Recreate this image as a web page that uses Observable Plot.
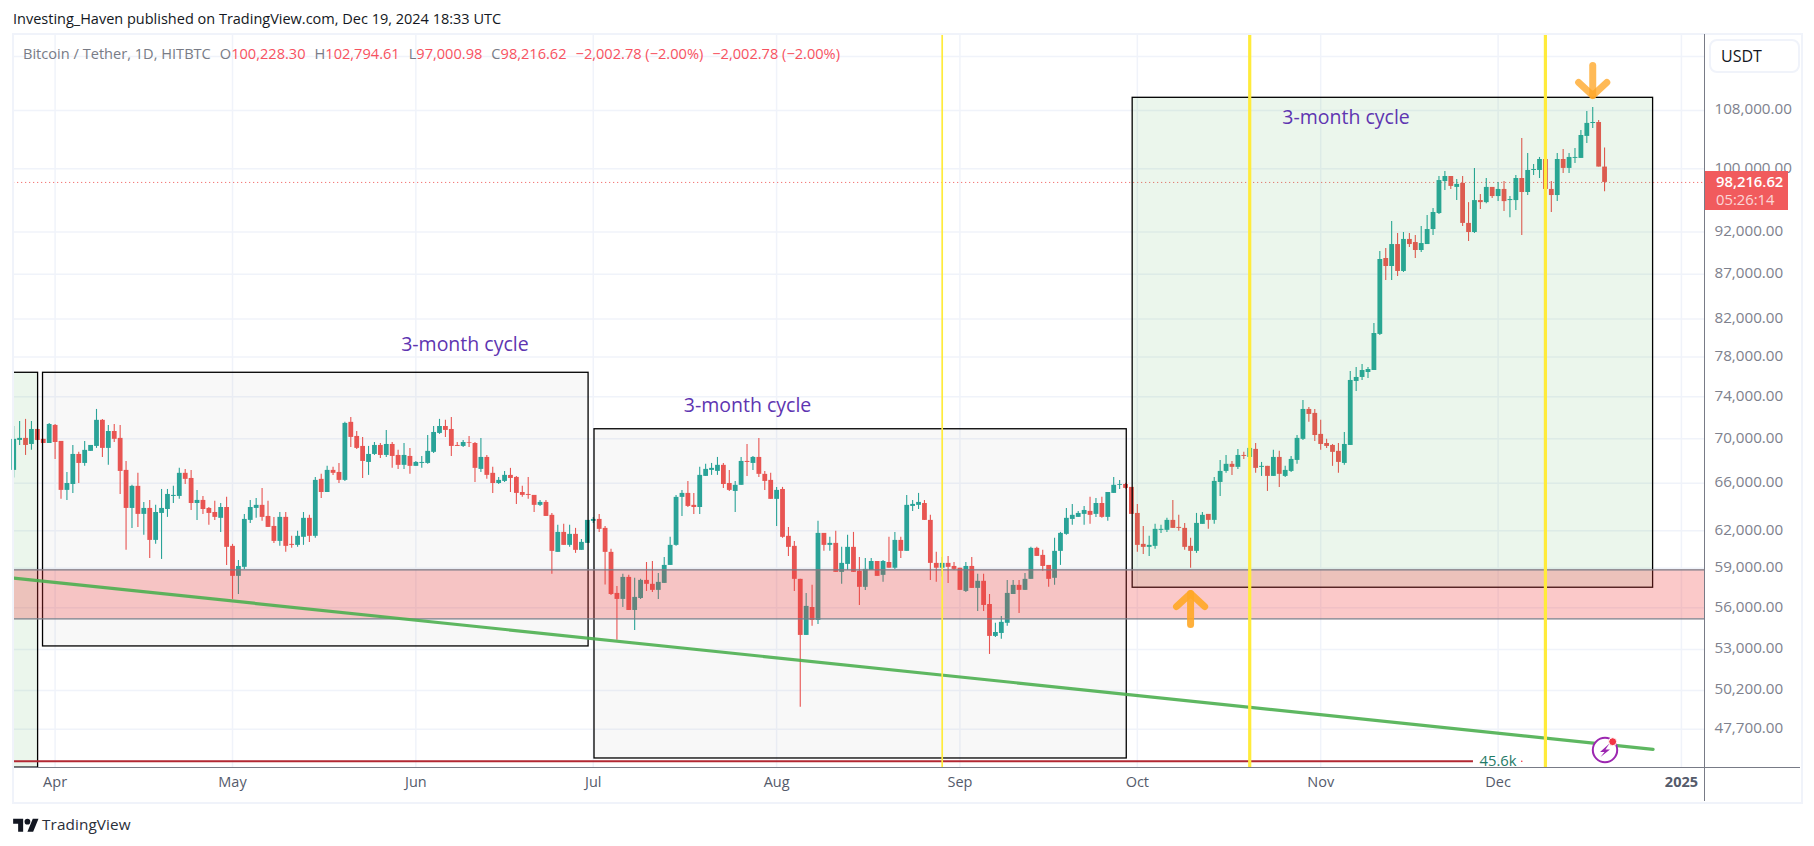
<!DOCTYPE html>
<html>
<head>
<meta charset="utf-8">
<script src="https://cdn.jsdelivr.net/npm/d3@7"></script>
<script src="https://cdn.jsdelivr.net/npm/@observablehq/plot@0.6"></script>
<style>
html,body{margin:0;padding:0;background:#fff;}
#wrap{position:relative;width:1814px;height:846px;overflow:hidden;font-family:"Open Sans",sans-serif;}
#chart svg{display:block;}
.ov{position:absolute;white-space:nowrap;}
.g{color:#787b86}.r{color:#f7525f}
</style>
</head>
<body>
<div id="wrap">
  <div id="chart"></div>
  <div class="ov" style="left:12px;top:33px;width:1787px;height:767px;border:2px solid #f0f3fa;box-sizing:content-box"></div>
  <div class="ov" style="left:1704px;top:34px;width:1px;height:767px;background:#787b86"></div>
  <div class="ov" style="left:14px;top:767px;width:1786px;height:1px;background:#787b86"></div>
  <div class="ov" style="left:13px;top:9px;font-size:14.5px;color:#131722">Investing_Haven published on TradingView.com, Dec 19, 2024 18:33 UTC</div>
  <div class="ov" id="legend" style="left:23px;top:43px;font-size:14.6px;color:#787b86"></div>
  <div class="ov" style="left:1709px;top:39px;width:87px;height:30px;border:2px solid #f0f3fa;border-radius:8px;background:#fff;font-size:16px;line-height:30px;color:#131722;font-weight:500"><span style="margin-left:10px">USDT</span></div>
  <div class="ov" style="left:1705px;top:171px;width:83px;height:39px;background:#f15b5d;color:#fff;font-size:14.8px;line-height:18.3px;padding:1px 0 0 11px;box-sizing:border-box"><div style="font-weight:600">98,216.62</div><div style="opacity:.75">05:26:14</div></div>
  <svg class="ov" style="left:1590px;top:735px" width="32" height="32" viewBox="0 0 32 32">
    <circle cx="15" cy="15" r="12.2" fill="#fff" stroke="#9c27b0" stroke-width="2"/>
    <path d="M19.5 8.5 L10 17 L14.5 17 L10.5 22 L20 14.5 L15.5 14.5 Z" fill="#9c27b0"/>
    <circle cx="22.7" cy="6.7" r="4" fill="#f23645" stroke="#fff" stroke-width="1"/>
  </svg>
  <svg class="ov" style="left:13px;top:816px" width="26" height="20" viewBox="0 0 36 28"><path d="M14 22H7V11H0V4h14v18zM28 22h-8l7.5-18h8L28 22z" fill="#131722"/><circle cx="20" cy="8" r="4" fill="#131722"/></svg>
  <div class="ov" style="left:42px;top:814px;font-size:15.3px;color:#2a2e39;letter-spacing:.1px">TradingView</div>
</div>
<script>
// Daily candles: [open, high, low, close]
const mar = [
[67140,71150,66460,69950],[69850,71630,69390,70040],[70040,71820,68480,69390],[69480,71630,68940,70870],[70870,70900,69800,69850],[69950,69950,69570,69570],[69570,71440,69570,71340]];
const apr = [
[71250,71340,68120,69660],[69760,69760,64620,65390],[65390,66960,64530,65990],[65900,69390,65130,68570],[68570,68760,65990,67760],[67760,69760,67500,68940],[68850,69390,68850,69390],[69300,72770,69120,71730],[71730,71820,68300,69120],[69120,71250,67590,70680],
[70680,71340,69660,69950],[70040,71250,65040,67050],[67140,67940,60410,63850],[63850,65830,62190,65740],[65740,66880,62270,63350],[63350,64360,61620,63850],[63850,64530,59770,61210],[61210,64110,60890,63510],[63430,65470,59690,63850],[63760,65470,63100,65040],
[64870,65740,64270,64960],[64870,67320,64620,66880],[66880,67230,65900,66350],[66430,67140,63680,64270],[64270,65390,62850,64530],[64530,64870,63350,63760],[63850,63930,62440,63430],[63510,64450,62850,63100],[63020,64270,61860,63930],[63930,64790,59220,60650]];
const may = [
[60730,60890,56620,58370],[58370,59610,56990,59140],[59070,63350,58910,62930],[62850,64530,62600,63930],[63850,64700,63020,64110],[64110,65560,62770,63100],[63180,64450,62270,62270],[62350,63100,60970,61130],[61130,63510,60730,63100],[63100,63510,60250,60730],
[60890,61540,60570,60810],[60810,61950,60650,61540],[61460,63510,60810,63020],[63020,63270,61050,61540],[61540,66520,61380,66260],[66350,66790,64700,65210],[65210,67500,65210,67140],[67140,67410,66700,66880],[66960,67760,65990,66260],[66260,71540,66170,71440],
[71540,72010,69210,70130],[70220,70680,69030,69120],[69300,70130,66430,67940],[67850,69300,66700,68570],[68570,69660,68480,69390],[69390,69570,68210,68480],[68480,70780,68300,69480],[69480,69660,67320,68390],[68480,68940,67230,67590],[67590,69570,67230,68480],
[68390,69120,66790,67500]];
const jun = [
[67500,67940,67500,67850],[67760,68390,67320,67850],[67760,70310,67680,68850],[68760,71150,68660,70590],[70500,71820,70410,71150],[71150,71730,70130,70780],[70870,72010,68390,69300],[69390,69660,69300,69300],[69300,69850,69210,69660],[69660,70220,69210,69600],
[69570,69660,66080,67320],[67230,70040,66960,68300],[68300,68480,66350,66700],[66880,67410,65130,65990],[65990,66520,65900,66260],[66170,67050,66080,66700],[66700,67320,65210,66430],[66520,66610,64190,65130],[65210,65740,64790,64960],[65040,66520,64620,64960],
[64960,64960,63510,64110],[64110,64530,64020,64360],[64360,64530,63180,63180],[63270,63430,58530,60330],[60250,62440,60250,61860],[61860,62520,60810,60810],[60810,62440,60650,61700],[61700,62190,60170,60410],[60410,61290,60410,61050],[60970,62850,60970,62850]];
const jul = [
[62770,63100,62600,62930],[62930,63350,61860,62110],[62190,62350,57700,60250],[60250,60490,56920,56990],[57070,57600,53640,56620],[56620,58530,56020,58290],[58290,58450,55800,55800],[55800,58220,54350,56770],[56690,58140,56620,58060],[58060,59450,57220,57760],
[57760,59530,57140,57300],[57300,58600,56620,57910],[57830,59850,57830,59220],[59220,61460,59220,60810],[60810,64960,60730,64790],[64790,65390,63180,65130],[65130,66170,63930,64020],[64110,65130,63350,63930],[63930,67410,63350,66700],[66610,67680,66610,67230],
[67140,67760,66700,67320],[67050,68300,66700,67590],[67590,67760,65560,65900],[65990,67140,65300,65390],[65300,66170,63510,65830],[65830,68300,65830,67940],[67940,69480,66610,67850],[67760,68390,67140,68300],[68300,70040,66520,66790],[66790,67050,65390,66170],
[66260,66880,64620,64620]];
const aug = [
[64620,65650,62350,65390],[65470,65650,61380,61460],[61540,62270,59930,60650],[60730,61130,57220,58140],[58140,58140,49100,53990],[53990,57070,53990,56100],[56020,57680,54640,55070],[55070,62770,54780,61780],[61780,61780,60330,60810],[60810,61460,60330,60970],
[60970,61950,58680,58680],[58680,60650,57760,59380],[59300,61620,58830,60650],[60650,61860,58680,58680],[58760,59850,56170,57530],[57530,59770,57300,58910],[58830,59770,58830,59530],[59530,59530,58370,58370],[58450,59610,57910,59530],[59450,61460,59000,59000],
[59000,61860,58910,61210],[61210,61460,59770,60330],[60330,64960,60330,64110],[64020,64530,63600,64190],[64110,65130,63760,64360],[64270,64530,62850,62850],[62850,63270,58060,59380],[59380,60250,57910,59000],[59000,59850,58320,59380],[59380,59930,57830,59070],
[59140,59450,58830,58910]];
const sep = [
[59000,59000,57300,57300],[57220,59450,57140,59140],[59140,59850,57450,57450],[57450,58530,55730,57990],[57990,58530,55730,56170],[56240,56990,52650,53920],[53920,54860,53850,54200],[54130,55360,53710,54930],[54860,58060,54640,57070],[56990,58060,56990,57680],
[57680,58060,55580,57300],[57300,58600,57300,58140],[58140,60650,58140,60570],[60570,60650,59930,59930],[60010,60410,58760,59140],[59220,59220,57530,58140],[58220,61380,57680,60330],[60330,61860,59220,61780],[61700,63850,61620,63020],[62930,64190,62440,63270],
[63100,63600,63100,63430],[63350,64020,62440,63680],[63600,64790,62520,63270],[63350,64700,63100,64270],[64270,64790,63020,63100],[63100,65210,62770,65210],[65130,66520,65130,65830],[65830,66260,65470,65900],[65900,66000,65500,65560],[65650,65650,63350,63350]];
const oct = [
[63430,64190,60250,60810],[60890,62350,60090,60650],[60650,61540,59930,60810],[60730,62520,60490,62110],[62030,62440,61780,62110],[62030,63020,61860,62850],[62850,64530,62190,62190],[62270,63270,61950,62190],[62190,62600,60410,60650],[60730,61380,59000,60330],
[60330,63430,60170,62600],[62520,63510,62520,63270],[63350,63350,62110,62850],[62850,66520,62520,66170],[66080,68030,64870,67050],[67050,68480,66880,67680],[67680,67940,66700,67410],[67410,69030,67230,68480],[68480,68760,68120,68390],[68300,69210,68300,69120],
[69030,69570,66880,67320],[67410,67850,66610,67500],[67500,67500,65300,66610],[66610,68940,66610,68300],[68300,68850,65650,66790],[66610,67500,66520,67140],[67050,68390,66960,68120],[68030,70310,67680,70040],[69950,73640,69850,72770],[72770,72960,71540,72290],
[72390,72770,69760,70310]];
const nov = [
[70410,71730,68940,69480],[69570,69950,69120,69300],[69390,69480,67500,68760],[68850,69570,66880,67850],[67760,70590,67590,69480],[69390,76510,69390,75610],[75510,76910,74520,75910],[75910,77220,75610,76610],[76410,76910,75810,76710],[76610,81520,76610,80450],
[80350,89650,80240,88710],[88830,90000,86280,87890],[87890,93280,86280,90480],[90480,91810,86740,87320],[87320,91930,87200,91090],[91090,91810,90120,90480],[90720,91560,88830,89770],[89770,92660,89530,90600],[90480,94010,90480,92290],[92290,94900,91560,94390],
[94260,98990,94130,98460],[98330,99650,97170,98990],[98990,98990,97310,97700],[97570,98600,95890,97960],[98090,98990,92660,93040],[93040,95630,90840,91930],[91930,100050,91810,95890],[95890,96670,94770,95630],[95630,98730,95500,97570],[97570,97570,96150,96400]];
const dec = [
[96400,98200,95760,97310],[97310,98330,94510,95760],[95890,96400,93740,96020],[95890,99120,94640,98730],[98730,104100,91560,96920],[96920,102050,96530,99780],[99780,100570,99120,99910],[99780,101510,98730,101240],[101240,101500,97310,97310],[97310,98330,94390,96530],
[96530,102050,95760,101240],[101240,102590,99390,100050],[100050,102050,99390,101510],[101380,102730,100700,101510],[101380,105200,101380,104500],[104370,107860,103400,106180],[106170,108420,105470,106310],[106310,106590,100228,100228],[100228.30,102794.61,97000.98,98216.62]];
const monthRows = [["2024-03-25",mar],["2024-04-01",apr],["2024-05-01",may],["2024-06-01",jun],["2024-07-01",jul],["2024-08-01",aug],["2024-09-01",sep],["2024-10-01",oct],["2024-11-01",nov],["2024-12-01",dec]];

const priceTicks = [116000,108000,100000,92000,87000,82000,78000,74000,70000,66000,62000,59000,56000,53000,50200,47700];
const labelTicks = priceTicks.slice(1);
const monthTicks = ["2024-04-01","2024-05-01","2024-06-01","2024-07-01","2024-08-01","2024-09-01","2024-10-01","2024-11-01","2024-12-01"].map(s=>new Date(s));
const yearTicks = [new Date("2025-01-01")];
const lastPrice = 98216.62;

const paneStart = new Date("2024-03-25T00:00Z"), paneEnd = new Date("2025-01-04T22:00Z");
const paneTop = 119400, paneBottom = 45340;

const grayBoxes = [
 {x1:"2024-03-29T23:00Z",x2:"2024-06-30T05:00Z",hi:76380,lo:53210},
 {x1:"2024-07-01T05:00Z",x2:"2024-09-29T05:00Z",hi:70890,lo:45890}];
const greenBoxes = [
 {x1:"2024-03-25T00:00Z",x2:"2024-03-29T03:00Z",hi:76380,lo:45340},
 {x1:"2024-09-30T05:00Z",x2:"2024-12-27T05:00Z",hi:109830,lo:57500}];
const supportZone = [{x1:paneStart,x2:paneEnd,hi:58880,lo:55180}];
const trendLine = [{d:"2024-03-25T00:00Z",p:58230},{d:"2024-12-27T05:00Z",p:46450}];
const floorLine = [{x1:paneStart,x2:"2024-11-26T20:00Z",p:45720}];
const floorDot = [{d:"2024-12-05",p:45720}];
const yellow = [{d:"2024-08-29",w:1.7},{d:"2024-10-20",w:3.2},{d:"2024-12-09",w:3.2}];
const cycleLabels = [{d:"2024-06-09T07:00Z",p:79280},{d:"2024-07-27T02:00Z",p:73150},{d:"2024-11-05T07:00Z",p:107010}];
const arrowDown = [
 {g:"a",d:"2024-12-17",p:114620},{g:"a",d:"2024-12-17",p:110170},
 {g:"b",d:"2024-12-14T15:00Z",p:112080},{g:"b",d:"2024-12-17",p:110170},{g:"b",d:"2024-12-19T09:00Z",p:112080}];
const arrowUp = [
 {g:"a",d:"2024-10-10",p:54780},{g:"a",d:"2024-10-10",p:57060},
 {g:"b",d:"2024-10-07T15:00Z",p:56090},{g:"b",d:"2024-10-10",p:57060},{g:"b",d:"2024-10-12T09:00Z",p:56090}];

const legendParts = [["g","Bitcoin / Tether, 1D, HITBTC",0],["g","O",9],["r","100,228.30",0],["g","H",9],["r","102,794.61",0],["g","L",9],["r","97,000.98",0],["g","C",9],["r","98,216.62",0],["r","−2,002.78 (−2.00%)",9],["r","−2,002.78 (−2.00%)",9]];
document.getElementById("legend").innerHTML = legendParts.map(([c,t,m])=>`<span class="${c}" style="margin-left:${m}px">${t}</span>`).join("");

const candles = monthRows.flatMap(([start,rows]) => rows.map((r,i)=>({
  date:d3.utcDay.offset(new Date(start),i),open:r[0],high:r[1],low:r[2],close:r[3]})));
const up = candles.filter(c=>c.close>=c.open), down = candles.filter(c=>c.close<c.open);
const teal="#26a69a", red="#ef5350", font='"Open Sans",sans-serif';
const D = s=>new Date(s);
const wick=(data,c)=>Plot.ruleX(data,{x:"date",y1:"low",y2:"high",stroke:c,strokeWidth:1.1});
const body=(data,c)=>Plot.ruleX(data,{x:"date",y1:"open",y2:"close",stroke:c,strokeWidth:4.8});
const box=(data,fill,stroke,w)=>Plot.rect(data,{x1:d=>D(d.x1),x2:d=>D(d.x2),y1:"lo",y2:"hi",fill,stroke,strokeWidth:w});

const chart = Plot.plot({
  width:1814,height:846,margin:0,
  style:{background:"transparent",fontFamily:font},
  x:{type:"utc",domain:[new Date("2024-03-22T18:26Z"),new Date("2025-01-23T12:00Z")],range:[0,1814]},
  y:{type:"log",domain:[40853,124896],range:[846,0]},
  marks:[
    Plot.ruleY(priceTicks,{x1:paneStart,x2:paneEnd,stroke:"#f0f3fa",strokeWidth:1.5}),
    Plot.ruleX(monthTicks.concat(yearTicks),{y1:paneBottom,y2:paneTop,stroke:"#f0f3fa",strokeWidth:1.5}),
    Plot.ruleY([lastPrice],{x1:paneStart,x2:paneEnd,stroke:red,strokeWidth:1,strokeDasharray:"1 3"}),
    wick(up,teal),wick(down,red),body(up,teal),body(down,red),
    box(grayBoxes,"rgba(120,123,134,.055)","#000",1.3),
    box(greenBoxes,"rgba(76,175,80,.11)","#000",1.3),
    Plot.rect(supportZone,{x1:"x1",x2:"x2",y1:"lo",y2:"hi",fill:"rgba(242,60,60,.28)"}),
    Plot.ruleY(supportZone.flatMap(z=>[z.hi,z.lo]),{x1:paneStart,x2:paneEnd,stroke:"#787b86",strokeWidth:1.2}),
    Plot.ruleY(floorLine,{y:"p",x1:"x1",x2:d=>D(d.x2),stroke:"#b22833",strokeWidth:2}),
    Plot.dot(floorDot,{x:d=>D(d.d),y:"p",r:.8,fill:"#f23645"}),
    Plot.line(trendLine,{x:d=>D(d.d),y:"p",stroke:"#4caf50",strokeWidth:3.2,strokeOpacity:.9}),
    ...yellow.map(l=>Plot.ruleX([D(l.d)],{y1:paneBottom,y2:paneTop,stroke:"#ffeb3b",strokeWidth:l.w})),
    Plot.text(cycleLabels,{x:d=>D(d.d),y:"p",text:()=>"3-month cycle",fill:"#5e35b1",fontSize:19.5,fontFamily:font}),
    Plot.text(floorLine,{x:d=>D(d.x2),y:"p",text:()=>"45.6k",dx:6,textAnchor:"start",fill:"#1f7a66",fontSize:14.8,fontFamily:font}),
    Plot.line(arrowDown,{x:d=>D(d.d),y:"p",z:"g",stroke:"#ffa726",strokeOpacity:.78,strokeWidth:7,strokeLinecap:"round",strokeLinejoin:"round"}),
    Plot.line(arrowUp,{x:d=>D(d.d),y:"p",z:"g",stroke:"#ffa726",strokeOpacity:.9,strokeWidth:7,strokeLinecap:"round",strokeLinejoin:"round"}),
    Plot.axisY(labelTicks,{anchor:"right",tickSize:0,tickPadding:0,dx:-100,dy:-1,textAnchor:"start",label:null,fontSize:15.2,fill:"#7e818d",tickFormat:d3.format(",.2f"),fontFamily:font}),
    Plot.axisX(monthTicks,{anchor:"bottom",tickSize:0,tickPadding:0,dy:-70,label:null,fontSize:14.5,fill:"#555b6b",tickFormat:d3.utcFormat("%b"),fontFamily:font}),
    Plot.axisX(yearTicks,{anchor:"bottom",tickSize:0,tickPadding:0,dy:-70,label:null,fontSize:14.5,fontWeight:"bold",fill:"#555b6b",tickFormat:d3.utcFormat("%Y"),fontFamily:font})
  ]
});
document.getElementById("chart").appendChild(chart);
</script>
</body>
</html>
